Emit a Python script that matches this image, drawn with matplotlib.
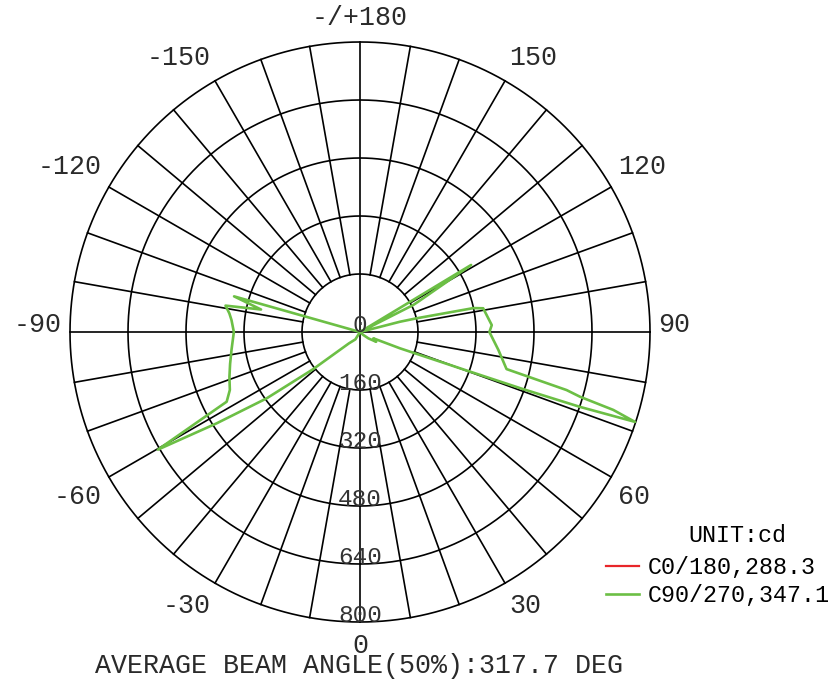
import numpy as np
import matplotlib
matplotlib.use('Agg')
import matplotlib.pyplot as plt

# --- data (angle in deg, 0 = down, +90 = right; intensity in cd) ---
C90_ANGLE = [-180, -107, -105.8, -102.8, -101.1, -98.1, -95.3, -90, -82, -76.2,
             -71, -66, -62.4, -59.8, -57.5, -54.6, -51.6, -44.3, -32, -15,
             0, 15, 30, 47.7, 52.8, 58.8, 64.7, 67.8, 70.2, 70.7,
             71.2, 71.9, 72.9, 73.6, 74.3, 75.8, 82.6, 90, 93, 100.9,
             101.9, 103.6, 104.4, 110, 116.9, 117.5, 121.1, 122, 150, 180]
C90_CD = [0, 0, 361, 280, 378, 364, 356, 348, 358, 369,
          381, 393, 415, 645, 469, 316, 166, 44, 24, 0,
          0, 0, 0, 12, 29, 52, 41, 119, 323, 477,
          641, 798, 731, 633, 592, 417, 385, 357, 364, 346,
          320, 161, 114, 0, 165, 181, 358, 0, 0, 0]

RING_VALUES = [0, 160, 320, 480, 640, 800]
ANGLE_TICKS = [0, 30, 60, 90, 120, 150, 180, -150, -120, -90, -60, -30]
ANGLE_LABELS = ['0', '30', '60', '90', '120', '150', '-/+180',
                '-150', '-120', '-90', '-60', '-30']
LEGEND_LABELS = ['C0/180,288.3', 'C90/270,347.1']
LEGEND_COLORS = ['#e8262a', '#6cbf45']
UNIT_TEXT = 'UNIT:cd'
FOOTER_TEXT = 'AVERAGE BEAM ANGLE(50%):317.7 DEG'

FONT = 'Liberation Mono'
TEXT_COLOR = '#2a2a2a'
W, H = 830, 683
CX, CY = 360, 332          # centre of the diagram, pixels
PX_PER_CD = 290 / 800.0    # outer ring radius 290 px

def to_xy(ang_deg, cd):
    a = np.radians(np.asarray(ang_deg, dtype=float))
    r = np.asarray(cd, dtype=float)
    return r * np.sin(a), -r * np.cos(a)

fig = plt.figure(figsize=(W / 100, H / 100), dpi=100)
ax = fig.add_axes([0, 0, 1, 1])
ax.set_xlim(-CX / PX_PER_CD, (W - CX) / PX_PER_CD)
ax.set_ylim(-(H - CY) / PX_PER_CD, CY / PX_PER_CD)
ax.axis('off')

rmax = RING_VALUES[-1]
rmin = RING_VALUES[1]

# rings
t = np.linspace(0, 2 * np.pi, 721)
for v in RING_VALUES[1:]:
    ax.plot(v * np.cos(t), v * np.sin(t), color='black', lw=1.2, zorder=1)

# spokes every 10 deg, starting at the inner ring
for a in range(0, 360, 10):
    if a % 90 == 0:
        continue
    x, y = to_xy([a, a], [rmin, rmax])
    ax.plot(x, y, color='black', lw=1.2, zorder=1)
ax.plot([-rmax, rmax], [0, 0], color='black', lw=1.2, zorder=1)
ax.plot([0, 0], [-rmax, rmax], color='black', lw=1.2, zorder=1)

# ring labels (baseline on the ring, below the centre)
for v in RING_VALUES:
    ax.text(0, -v, str(v), ha='center', va='baseline', fontsize=17.6,
            family=FONT, color='#333333', zorder=3)

# angle labels: anchored just outside the rim, pushed out by half their box
for a, lab in zip(ANGLE_TICKS, ANGLE_LABELS):
    s, c = np.sin(np.radians(a)), np.cos(np.radians(a))
    half_w = 8 * len(lab)
    dx = 298 * s + (np.sign(s) * half_w if abs(s) > 1e-6 else 0)
    dd = 298 * c + (np.sign(c) * 16 if abs(c) > 1e-6 else -7)
    ax.text(dx / PX_PER_CD, -dd / PX_PER_CD, lab, ha='center', va='center',
            fontsize=19.2, family=FONT, color=TEXT_COLOR)

# curves
ax.plot([], [], color=LEGEND_COLORS[0], lw=1.6, label=LEGEND_LABELS[0])
x, y = to_xy(C90_ANGLE, C90_CD)
ax.plot(x, y, color=LEGEND_COLORS[1], lw=1.9, label=LEGEND_LABELS[1], zorder=2)

ax.legend(loc='upper left', bbox_to_anchor=(606 / W, 1 - 556 / H),
          bbox_transform=fig.transFigure, frameon=False,
          prop={'family': FONT, 'size': 16.8},
          handlelength=1.4, handletextpad=0.4, labelspacing=0.2,
          borderpad=0, borderaxespad=0)
fig.text(737 / W, 1 - 535 / H, UNIT_TEXT, ha='center', va='center',
         fontsize=16.8, family=FONT, color='black')

fig.text(359 / W, 1 - 666 / H, FOOTER_TEXT, ha='center', va='center',
         fontsize=19.2, family=FONT, color=TEXT_COLOR)

fig.savefig('out.png', dpi=100)
